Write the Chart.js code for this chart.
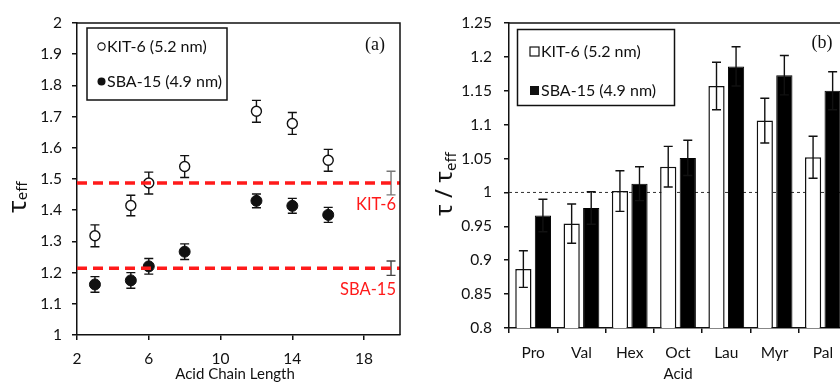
<!DOCTYPE html>
<html>
<head>
<meta charset="utf-8">
<script src="https://cdn.jsdelivr.net/npm/chart.js@4.4.1/dist/chart.umd.min.js"></script>
<style>
  html, body { margin: 0; padding: 0; background: #fff; overflow: hidden; }
  #wrapA { position: absolute; left: 0; top: 0; width: 420px; height: 384px; }
  #wrapB { position: absolute; left: 420px; top: 0; width: 440px; height: 384px; }
</style>
</head>
<body>
<div id="wrapA"><canvas id="chartA"></canvas></div>
<div id="wrapB"><canvas id="chartB"></canvas></div>
<script>
// panel (a): tau_eff against acid chain length
const chainLength = [3, 5, 6, 8, 12, 14, 16];
const kitTau = [1.318, 1.415, 1.487, 1.540, 1.717, 1.678, 1.560];
const kitTauErr = [0.035, 0.033, 0.035, 0.035, 0.035, 0.035, 0.035];
const sbaTau = [1.162, 1.175, 1.220, 1.267, 1.430, 1.414, 1.385];
const sbaTauErr = [0.025, 0.025, 0.025, 0.025, 0.022, 0.024, 0.024];
const avgX = [19.5];
const kitAvg = [1.487];
const kitAvgErr = [0.038];
const sbaAvg = [1.214];
const sbaAvgErr = [0.023];
const xTicks = [2, 6, 10, 14, 18];

// panel (b): tau / tau_eff per acid
const acids = ['Pro', 'Val', 'Hex', 'Oct', 'Lau', 'Myr', 'Pal'];
const kitRatio = [0.887, 0.954, 1.002, 1.038, 1.157, 1.106, 1.052];
const kitRatioErr = [0.027, 0.029, 0.030, 0.030, 0.035, 0.033, 0.031];
const sbaRatio = [0.966, 0.977, 1.013, 1.051, 1.186, 1.173, 1.150];
const sbaRatioErr = [0.024, 0.024, 0.025, 0.026, 0.029, 0.029, 0.028];
const refRatio = 1;

const FONT = "Lato, 'Noto Sans', sans-serif";
const INK = '#111';
const tickFont = { family: FONT, size: 15.5 };
const fmt = v => String(+v.toFixed(2));

// error bars, drawn from the parsed values through the y scale
function drawErrors(chart) {
  const ctx = chart.ctx, ys = chart.scales.y;
  chart.data.datasets.forEach((ds, i) => {
    if (!ds.errors) return;
    const meta = chart.getDatasetMeta(i);
    ctx.save();
    ctx.strokeStyle = ds.errorColor || INK;
    ctx.lineWidth = 1.4;
    meta.data.forEach((el, j) => {
      const v = meta.controller.getParsed(j).y;
      const top = ys.getPixelForValue(v + ds.errors[j]);
      const bot = ys.getPixelForValue(v - ds.errors[j]);
      const x = el.x, w = 4.5;
      ctx.beginPath();
      ctx.moveTo(x, top); ctx.lineTo(x, bot);
      ctx.moveTo(x - w, top); ctx.lineTo(x + w, top);
      ctx.moveTo(x - w, bot); ctx.lineTo(x + w, bot);
      ctx.stroke();
    });
    ctx.restore();
  });
}
const errorBars = {
  id: 'errorBars',
  beforeDatasetsDraw(chart, args, opts) { if (opts.before) drawErrors(chart); },
  afterDatasetsDraw(chart, args, opts) { if (!opts.before) drawErrors(chart); }
};

// rotated axis title with subscript parts
function rotTitle(ctx, x, y, parts) {
  ctx.save();
  ctx.translate(x, y);
  ctx.rotate(-Math.PI / 2);
  ctx.fillStyle = INK;
  ctx.textBaseline = 'alphabetic';
  ctx.textAlign = 'left';
  let cx = 0;
  parts.forEach(p => {
    ctx.font = p.font;
    ctx.fillText(p.text, cx, p.dy || 0);
    cx += ctx.measureText(p.text).width;
  });
  ctx.restore();
}

const decorA = {
  id: 'decorA',
  afterDraw(chart) {
    const ctx = chart.ctx, a = chart.chartArea, ys = chart.scales.y;
    ctx.save();
    // frame
    ctx.strokeStyle = INK; ctx.lineWidth = 1.5;
    ctx.beginPath();
    ctx.moveTo(a.left, a.top); ctx.lineTo(a.right, a.top); ctx.lineTo(a.right, a.bottom);
    ctx.stroke();
    // legend
    ctx.strokeRect(87, 28, 140, 72);
    ctx.lineWidth = 1.2;
    ctx.beginPath(); ctx.arc(101.5, 46.5, 3.6, 0, Math.PI * 2); ctx.fillStyle = '#fff'; ctx.fill(); ctx.stroke();
    ctx.beginPath(); ctx.arc(101.5, 81.5, 4, 0, Math.PI * 2); ctx.fillStyle = INK; ctx.fill();
    ctx.font = '16px ' + FONT; ctx.textBaseline = 'middle'; ctx.textAlign = 'left';
    ctx.fillText('KIT-6 (5.2 nm)', 107, 47);
    ctx.fillText('SBA-15 (4.9 nm)', 107, 82);
    // panel letter
    ctx.font = "18px 'Liberation Serif', serif"; ctx.textAlign = 'center';
    ctx.fillText('(a)', 375, 45);
    // reference labels
    ctx.fillStyle = '#ff1a1a'; ctx.font = '16.5px ' + FONT; ctx.textAlign = 'right';
    ctx.fillText('KIT-6', a.right - 4, ys.getPixelForValue(kitAvg[0]) + 22);
    ctx.fillText('SBA-15', a.right - 4, ys.getPixelForValue(sbaAvg[0]) + 21);
    // x title
    ctx.fillStyle = INK; ctx.font = '15px ' + FONT; ctx.textAlign = 'center'; ctx.textBaseline = 'alphabetic';
    ctx.fillText('Acid Chain Length', 235, 379);
    ctx.restore();
    rotTitle(ctx, 26, 213, [
      { text: 'τ', font: "26px 'Noto Sans', sans-serif" },
      { text: 'eff', font: "15px 'Noto Sans', sans-serif", dy: 1 }
    ]);
  }
};

const decorB = {
  id: 'decorB',
  beforeDatasetsDraw(chart) {
    const ctx = chart.ctx, a = chart.chartArea;
    const y = chart.scales.y.getPixelForValue(refRatio);
    ctx.save();
    ctx.strokeStyle = '#333'; ctx.lineWidth = 1; ctx.setLineDash([3, 3]);
    ctx.beginPath(); ctx.moveTo(a.left, y); ctx.lineTo(a.right, y); ctx.stroke();
    ctx.restore();
  },
  afterDraw(chart) {
    const ctx = chart.ctx, a = chart.chartArea;
    ctx.save();
    ctx.strokeStyle = INK; ctx.lineWidth = 1.5;
    ctx.beginPath();
    ctx.moveTo(a.left, a.top); ctx.lineTo(a.right, a.top); ctx.lineTo(a.right, a.bottom);
    ctx.stroke();
    // legend
    ctx.strokeRect(97.5, 29.5, 157, 76);
    ctx.lineWidth = 1.2;
    ctx.fillStyle = '#fff';
    ctx.fillRect(110, 47, 9, 9); ctx.strokeRect(110, 47, 9, 9);
    ctx.fillStyle = INK;
    ctx.fillRect(110, 86, 9, 9);
    ctx.font = '16px ' + FONT; ctx.textBaseline = 'middle'; ctx.textAlign = 'left';
    ctx.fillText('KIT-6 (5.2 nm)', 121, 52);
    ctx.fillText('SBA-15 (4.9 nm)', 121, 91);
    ctx.font = "18px 'Liberation Serif', serif"; ctx.textAlign = 'center';
    ctx.fillText('(b)', 402, 43);
    ctx.font = '15px ' + FONT; ctx.textBaseline = 'alphabetic';
    ctx.fillText('Acid', (a.left + a.right) / 2, 379);
    ctx.restore();
    rotTitle(ctx, 32, 216, [
      { text: 'τ / τ', font: "24px 'Noto Sans', sans-serif" },
      { text: 'eff', font: "15px 'Noto Sans', sans-serif", dy: 4 }
    ]);
  }
};

const axisGrid = { drawOnChartArea: false, drawTicks: true, tickLength: 5, color: INK, lineWidth: 1.5 };
const axisBorder = { color: INK, width: 1.5 };

window.addEventListener('DOMContentLoaded', () => {
  Chart.defaults.font.family = FONT;
  Chart.defaults.color = INK;

  new Chart(document.getElementById('chartA'), {
    type: 'scatter',
    data: {
      datasets: [
        { type: 'line', order: 0, data: [{ x: 2, y: kitAvg[0] }, { x: 20, y: kitAvg[0] }],
          borderColor: '#ff1a1a', borderWidth: 3.5, borderDash: [10, 6], pointRadius: 0 },
        { type: 'line', order: 0, data: [{ x: 2, y: sbaAvg[0] }, { x: 20, y: sbaAvg[0] }],
          borderColor: '#ff1a1a', borderWidth: 3.5, borderDash: [10, 6], pointRadius: 0 },
        { label: 'KIT-6 (5.2 nm)', order: 1, data: chainLength.map((x, i) => ({ x, y: kitTau[i] })),
          errors: kitTauErr, pointRadius: 5, pointBackgroundColor: '#fff', pointBorderColor: INK, pointBorderWidth: 1.4 },
        { label: 'SBA-15 (4.9 nm)', order: 1, data: chainLength.map((x, i) => ({ x, y: sbaTau[i] })),
          errors: sbaTauErr, pointRadius: 5.5, pointBackgroundColor: INK, pointBorderColor: INK, pointBorderWidth: 1 },
        { label: 'KIT-6 mean', order: 2, data: avgX.map((x, i) => ({ x, y: kitAvg[i] })),
          errors: kitAvgErr, errorColor: '#777', pointRadius: 0 },
        { label: 'SBA-15 mean', order: 2, data: avgX.map((x, i) => ({ x, y: sbaAvg[i] })),
          errors: sbaAvgErr, errorColor: '#444', pointRadius: 0 }
      ]
    },
    options: {
      responsive: true, maintainAspectRatio: false, animation: false,
      layout: { padding: { top: 23, right: 20, left: 0, bottom: 0 } },
      plugins: { legend: { display: false }, tooltip: { enabled: false }, errorBars: { before: true } },
      scales: {
        x: {
          type: 'linear', min: 2, max: 20,
          afterFit: s => { s.height = 49; },
          afterBuildTicks: s => { s.ticks = xTicks.map(v => ({ value: v })); },
          grid: axisGrid, border: axisBorder,
          ticks: { font: tickFont, color: INK, padding: 10, maxRotation: 0 }
        },
        y: {
          min: 1, max: 2,
          afterFit: s => { s.width = 77; },
          grid: axisGrid, border: axisBorder,
          ticks: { stepSize: 0.1, font: tickFont, color: INK, padding: 10, callback: fmt }
        }
      }
    },
    plugins: [errorBars, decorA]
  });

  new Chart(document.getElementById('chartB'), {
    type: 'bar',
    data: {
      labels: acids,
      datasets: [
        { label: 'KIT-6 (5.2 nm)', data: kitRatio, errors: kitRatioErr,
          backgroundColor: '#fff', borderColor: INK, borderWidth: 1.5 },
        { label: 'SBA-15 (4.9 nm)', data: sbaRatio, errors: sbaRatioErr,
          backgroundColor: '#000', borderColor: '#000', borderWidth: 1 }
      ]
    },
    options: {
      responsive: true, maintainAspectRatio: false, animation: false,
      layout: { padding: { top: 23, right: 13, left: 0, bottom: 0 } },
      categoryPercentage: 0.81, barPercentage: 0.83,
      plugins: { legend: { display: false }, tooltip: { enabled: false }, errorBars: { before: false } },
      scales: {
        x: {
          afterFit: s => { s.height = 56; },
          grid: Object.assign({}, axisGrid, { offset: true }), border: axisBorder,
          ticks: { font: tickFont, color: INK, padding: 11, maxRotation: 0 }
        },
        y: {
          min: 0.8, max: 1.25,
          afterFit: s => { s.width = 89; },
          grid: axisGrid, border: axisBorder,
          ticks: { stepSize: 0.05, font: tickFont, color: INK, padding: 12, callback: fmt }
        }
      }
    },
    plugins: [errorBars, decorB]
  });
});
</script>
</body>
</html>
